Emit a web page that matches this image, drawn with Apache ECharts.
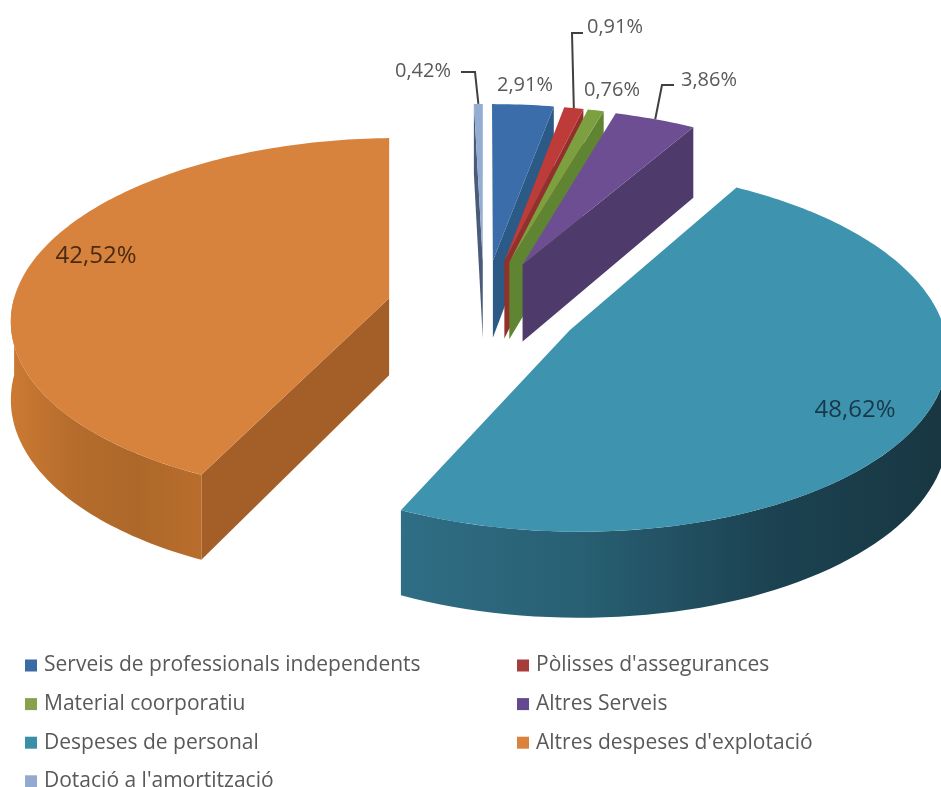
<!DOCTYPE html>
<html><head><meta charset="utf-8">
<style>html,body{margin:0;padding:0;background:#fff}#c{width:941px;height:787px;filter:blur(0.6px)}</style>
<script src="https://cdn.jsdelivr.net/npm/echarts@6/dist/echarts.min.js"></script>
</head><body><div id="c"></div>
<script>
// ---- data ----
const categories = ["Serveis de professionals independents","Pòlisses d'assegurances","Material coorporatiu","Altres Serveis","Despeses de personal","Altres despeses d'explotació","Dotació a l'amortització"];
const values = [2.91,0.91,0.76,3.86,48.62,42.52,0.42];
// ---- style ----
const topColors = ['#3A6DA9','#BD3B38','#7C9F40','#6D4E92','#3E93AE','#D7823D','#93AED2'];
const cutColors = ['#2C5A86','#93302C','#5F8532','#4F3A6C','#1F4452','#A35F27','#4A5A78'];
const wallColors = {4:['#2F6E85','#285F73','#1C4352','#183642'],5:['#CB7A33','#B56C2C','#AD6829','#B96D2C']};
const legendColors = ['#3B6BA5','#A63D3A','#87A24A','#65498F','#3A8FA8','#D9833C','#93AAD0'];
// ---- projection layout ----
const O=[484,308], EX=97, EY=47.5, RX=375, RY=178, K=0.105, DEPTH=77;
const labelPos = [
  {x:525,y:85,s:20,c:'#595959'},{x:615,y:27,s:20,c:'#595959',line:[[583,33],[572,33]]},
  {x:612,y:90,s:20,c:'#595959'},{x:709,y:80,s:20,c:'#595959',line:[[674,85],[662,85]]},
  {x:855,y:410,s:24,c:'#17384A'},{x:96,y:256,s:24,c:'#4A2A10'},
  {x:423,y:71,s:20,c:'#595959',line:[[461,72],[475,72]]}];
const total = values.reduce((a,b)=>a+b,0);
const starts = []; values.reduce((a,v,i)=>(starts[i]=a,a+v),0);
const rad = d => d*Math.PI/180;
function persp(t){return 1/(1+K*Math.cos(t));}
function offset(i){const m=rad((starts[i]+values[i]/2)/total*360);
  return [EX*Math.sin(m),-EY*Math.cos(m)];}
function apex(i){const e=offset(i);return [O[0]+e[0],O[1]+e[1]];}
function rim(i,t){const e=offset(i),p=persp(t);
  return [O[0]+(e[0]+RX*Math.sin(t))*p,O[1]+(e[1]-RY*Math.cos(t))*p];}
function depth(t){return DEPTH*persp(t);}
function renderSlice(params,api){
  const i=params.seriesIndex, v=api.value(0);
  const a0=starts[i]/total*360, a1=a0+v/total*360;
  const t0=rad(a0),t1=rad(a1),A=apex(i);
  const kids=[];
  const poly=(pts,fill)=>kids.push({type:'polygon',shape:{points:pts},style:{fill:fill,stroke:null}});
  const cut=(t)=>{const r=rim(i,t),d=depth(t);
    poly([A,r,[r[0],r[1]+d],[A[0],A[1]+DEPTH]],cutColors[i]);};
  if(a0>180&&a0<360) cut(t0);
  if(a1>0&&a1<180) cut(t1);
  // outer wall, front half
  const lo=Math.max(a0,90),hi=Math.min(a1,270);
  if(hi>lo){
    const up=[],dn=[];
    for(let a=lo;a<=hi+1e-6;a+=(hi-lo)/60){const t=rad(a),r=rim(i,t);up.push(r);dn.unshift([r[0],r[1]+depth(t)]);}
    const c=wallColors[i]||[cutColors[i],cutColors[i]];
    poly(up.concat(dn),{type:'linear',x:0,y:0,x2:1,y2:0,colorStops:c.map((col,j)=>({offset:j/(c.length-1),color:col}))});
  }
  // top face
  const pts=[A];const n=Math.max(4,Math.ceil(a1-a0));
  for(let j=0;j<=n;j++)pts.push(rim(i,t0+(t1-t0)*j/n));
  poly(pts,topColors[i]);
  // leader and label
  const L=labelPos[i];
  if(L.line){const tm=(t0+t1)/2;let r=rim(i,tm);
    kids.push({type:'polyline',shape:{points:L.line.concat([r])},style:{fill:null,stroke:'#404040',lineWidth:2}});}
  kids.push({type:'text',style:{x:L.x,y:L.y,text:v.toFixed(2).replace('.',',')+'%',fill:L.c,
    font:L.s+'px "Open Sans"',align:'center',verticalAlign:'middle'}});
  return {type:'group',children:kids};
}
const order=[6,0,1,2,3,5,4]; // back to front
const allSeries=categories.map((name,i)=>({type:'custom',name:name,coordinateSystem:'none',renderItem:renderSlice,
  z:2+order.indexOf(i),silent:true,animation:false,clip:false,itemStyle:{color:legendColors[i]},data:[[values[i]]]}));
const legendBase={orient:'vertical',icon:'rect',itemWidth:12,itemHeight:12,itemGap:17.6,selectedMode:false,height:200,
  textStyle:{fontFamily:'Open Sans',fontSize:21,color:'#595959',lineHeight:20,padding:[0,0,0,2]},padding:0};
const chart=echarts.init(document.getElementById('c'),null,{renderer:'canvas'});
chart.setOption({animation:false,backgroundColor:'#fff',
  legend:[Object.assign({},legendBase,{left:25,top:655,data:[categories[0],categories[2],categories[4],categories[6]]}),
          Object.assign({},legendBase,{left:517,top:655,data:[categories[1],categories[3],categories[5]]})],
  series:allSeries});
</script></body></html>
